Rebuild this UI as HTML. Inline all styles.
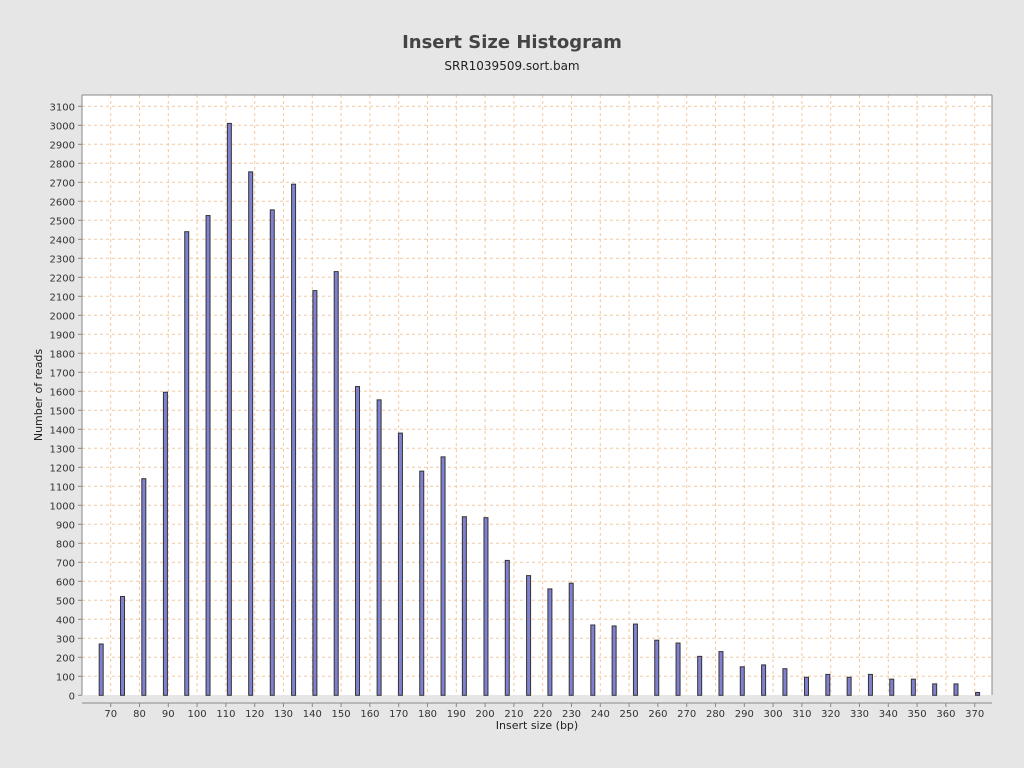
<!DOCTYPE html>
<html><head><meta charset="utf-8"><style>
html,body{margin:0;padding:0;background:#e6e6e6;}
svg{display:block;font-family:"DejaVu Sans","Liberation Sans",sans-serif;}
</style></head><body>
<svg id="chart" width="1024" height="768" xmlns="http://www.w3.org/2000/svg">
<rect width="1024" height="768" fill="#e6e6e6"/>
<text x="512" y="48" text-anchor="middle" font-size="18" font-weight="bold" fill="#444">Insert Size Histogram</text>
<text x="512" y="70" text-anchor="middle" font-size="12" fill="#222">SRR1039509.sort.bam</text>
<rect x="82" y="95" width="910" height="600" fill="#fff"/>
<g id="grid"></g>
<g id="bars"></g>
<line x1="82" y1="95" x2="82" y2="695" stroke="#888"/>
<line x1="82" y1="703" x2="992" y2="703" stroke="#888"/>
<line x1="992" y1="95" x2="992" y2="695" stroke="#888"/>
<line x1="82" y1="95" x2="992" y2="95" stroke="#888"/>
<g id="yticks"></g>
<g id="xticks"></g>
<text x="537" y="729" text-anchor="middle" font-size="11" fill="#222">Insert size (bp)</text>
<text transform="translate(42,395) rotate(-90)" text-anchor="middle" font-size="11" fill="#222">Number of reads</text>
</svg>
<script>
const binCenters = [66.7,74.1,81.5,89.0,96.4,103.8,111.2,118.6,126.1,133.5,140.9,148.3,155.7,163.2,170.6,178.0,185.4,192.8,200.3,207.7,215.1,222.5,229.9,237.4,244.8,252.2,259.6,267.0,274.5,281.9,289.3,296.7,304.1,311.6,319.0,326.4,333.8,341.2,348.7,356.1,363.5,371.0];
const readCounts = [270,520,1140,1595,2440,2525,3010,2755,2555,2690,2130,2230,1625,1555,1380,1180,1255,940,935,710,630,560,590,370,365,375,290,275,205,230,150,160,140,95,110,95,110,85,85,60,60,15];
const yTicks = [0,100,200,300,400,500,600,700,800,900,1000,1100,1200,1300,1400,1500,1600,1700,1800,1900,2000,2100,2200,2300,2400,2500,2600,2700,2800,2900,3000,3100];
const xTicks = [70,80,90,100,110,120,130,140,150,160,170,180,190,200,210,220,230,240,250,260,270,280,290,300,310,320,330,340,350,360,370];
const NS="http://www.w3.org/2000/svg";
function xs(v){return 110.7+(v-70)*2.88;}
function ys(v){return 695.3-v*0.19;}
function mk(tag,attrs,parent){const e=document.createElementNS(NS,tag);for(const k in attrs)e.setAttribute(k,attrs[k]);parent.appendChild(e);return e;}
const grid=document.getElementById('grid'),bars=document.getElementById('bars'),yt=document.getElementById('yticks'),xt=document.getElementById('xticks');
yTicks.forEach(v=>{
  const y=ys(v);
  if(v>0){const g=mk('line',{x1:82,x2:992,y1:y,y2:y,stroke:'#f5c8a0','stroke-dasharray':'3,3'},grid);
  
  }
  const t=mk('line',{x1:78,x2:82,y1:y,y2:y,stroke:'#888'},yt);
  
  
  const l=mk('text',{x:75,y:y+4,'text-anchor':'end','font-size':10,fill:'#333'},yt);l.textContent=v;
  
  
});
xTicks.forEach(v=>{
  const x=xs(v);
  const g=mk('line',{x1:x,x2:x,y1:95,y2:695,stroke:'#f5c8a0','stroke-dasharray':'3,3'},grid);
  
  
  const t=mk('line',{x1:x,x2:x,y1:703,y2:707,stroke:'#888'},xt);
  
  
  const l=mk('text',{x:x,y:717,'text-anchor':'middle','font-size':10,fill:'#333'},xt);l.textContent=v;
  
  
});
binCenters.forEach((c,i)=>{
  const x=xs(c),y=ys(readCounts[i]);
  const r=mk('rect',{x:x-2,y:y,width:4,height:695.3-y,fill:'#8080d0',stroke:'#333','stroke-width':1},bars);
  
  
});
</script>
</body></html>
